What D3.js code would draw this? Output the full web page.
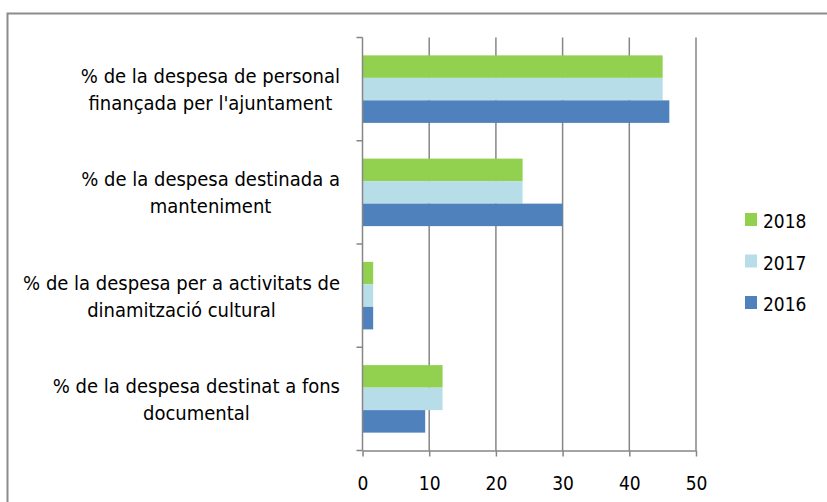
<!DOCTYPE html>
<html>
<head>
<meta charset="utf-8">
<script src="https://cdn.jsdelivr.net/npm/d3@7"></script>
<style>
  body { margin: 0; background: #fff; }
  svg text { font-family: "DejaVu Sans Condensed", "DejaVu Sans", Verdana, sans-serif; font-stretch: condensed; fill: #000; }
</style>
</head>
<body>
<svg id="chart" width="827" height="502"></svg>
<script>
// categories (top to bottom), each split in two lines like the original
var categories = [
  ["% de la despesa de personal", "finançada per l'ajuntament"],
  ["% de la despesa destinada a", "manteniment"],
  ["% de la despesa per a activitats de", "dinamització cultural"],
  ["% de la despesa destinat a fons", "documental"]
];
var years = ["2018", "2017", "2016"];
var values2018 = [45, 24, 1.6, 12];
var values2017 = [45, 24, 1.6, 12];
var values2016 = [46, 30, 1.6, 9.4];
var xTicks = [0, 10, 20, 30, 40, 50];
var colors = ["#92D050", "#B7DEE8", "#4F81BD"];

var svg = d3.select("#chart");
var series = [values2018, values2017, values2016];

// outer frame of the chart
svg.append("rect")
    .attr("x", 7.5).attr("y", 13.5)
    .attr("width", 840).attr("height", 520)
    .attr("fill", "none")
    .attr("stroke", "#8c8c8c")
    .attr("stroke-width", 2);

var plot = {left: 362.5, right: 696, top: 37.5, bottom: 450.5};

var xScale = d3.scaleLinear()
    .domain([0, 50])
    .range([plot.left, plot.right]);

var yScale = d3.scaleBand()
    .domain(d3.range(categories.length))
    .range([plot.top, plot.bottom])
    .paddingInner(0.346)
    .paddingOuter(0.173);

var ySub = d3.scaleBand()
    .domain(years)
    .range([0, yScale.bandwidth()]);

// vertical gridlines
svg.append("g")
    .selectAll("line")
    .data(xTicks.slice(1))
    .join("line")
    .attr("x1", d => xScale(d)).attr("x2", d => xScale(d))
    .attr("y1", plot.top).attr("y2", plot.bottom)
    .attr("stroke", "#868686")
    .attr("stroke-width", 1.5);

// bars
series.forEach(function(vals, si) {
    svg.append("g")
        .selectAll("rect")
        .data(vals)
        .join("rect")
        .attr("x", xScale(0))
        .attr("y", (d, i) => yScale(i) + ySub(years[si]))
        .attr("width", d => xScale(d) - xScale(0))
        .attr("height", ySub.bandwidth())
        .attr("fill", colors[si]);
});

// x axis
var xAxis = d3.axisBottom(xScale)
    .tickValues(xTicks)
    .tickSize(6)
    .tickPadding(20)
    .tickSizeOuter(0);

var xAxisG = svg.append("g")
    .attr("transform", "translate(0," + plot.bottom + ")")
    .call(xAxis);
xAxisG.select(".domain").attr("stroke", "#868686").attr("stroke-width", 1.5);
xAxisG.selectAll(".tick line").attr("stroke", "#868686").attr("stroke-width", 1.5);
xAxisG.selectAll(".tick text")
    .attr("font-size", 19)
    .attr("dy", "0.71em")
    .attr("font-family", null);

// y axis line with tick marks at group boundaries
var boundaries = d3.range(categories.length + 1).map(function(i) {
    return i < categories.length ? yScale(i) - yScale.step() * yScale.paddingInner() / 2 : plot.bottom;
});
svg.append("line")
    .attr("x1", plot.left).attr("x2", plot.left)
    .attr("y1", plot.top).attr("y2", plot.bottom)
    .attr("stroke", "#868686").attr("stroke-width", 1.5);
svg.append("g")
    .selectAll("line")
    .data(boundaries)
    .join("line")
    .attr("x1", plot.left - 6).attr("x2", plot.left)
    .attr("y1", d => d).attr("y2", d => d)
    .attr("stroke", "#868686").attr("stroke-width", 1.5);

// category labels, right aligned block with centered lines
categories.forEach(function(lines, i) {
    var cy = yScale(i) + yScale.bandwidth() / 2;
    var g = svg.append("g");
    var t1 = g.append("text")
        .attr("x", 340).attr("y", cy - 6)
        .attr("text-anchor", "end")
        .attr("font-size", 20)
        .text(lines[0]);
    var w = t1.node().getComputedTextLength();
    g.append("text")
        .attr("x", 340 - w / 2).attr("y", cy + 21)
        .attr("text-anchor", "middle")
        .attr("font-size", 20)
        .text(lines[1]);
});

// legend
var legend = svg.append("g").attr("transform", "translate(745,213)");
years.forEach(function(y, i) {
    var row = legend.append("g").attr("transform", "translate(0," + (i * 41.5) + ")");
    row.append("rect")
        .attr("width", 12).attr("height", 13)
        .attr("fill", colors[i]);
    row.append("text")
        .attr("x", 18).attr("y", 15)
        .attr("font-size", 19)
        .text(y);
});
</script>
</body>
</html>
